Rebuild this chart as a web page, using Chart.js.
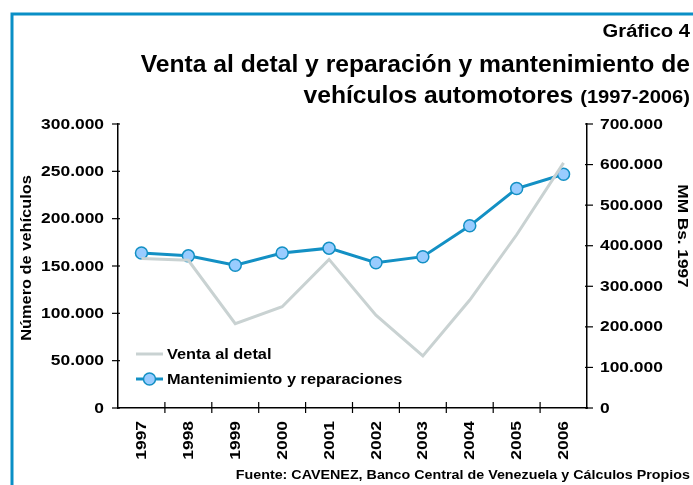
<!DOCTYPE html>
<html>
<head>
<meta charset="utf-8">
<script src="https://cdn.jsdelivr.net/npm/chart.js@4.4.0/dist/chart.umd.min.js"></script>
<style>
  html, body { margin: 0; padding: 0; background: #fff; }
  #wrap { width: 693px; height: 485px; position: relative; }
</style>
</head>
<body>
<div id="wrap"><canvas id="grafico"></canvas></div>
<script>
// Datos
var anios = ['1997', '1998', '1999', '2000', '2001', '2002', '2003', '2004', '2005', '2006'];
var ventaDetal = [158000, 156000, 89000, 107000, 157000, 98000, 55000, 114000, 183000, 259000];
var mantenimiento = [382000, 375000, 352000, 382000, 394000, 358000, 373000, 449000, 541000, 576000];
var ticksIzq = [0, 50000, 100000, 150000, 200000, 250000, 300000];
var ticksDer = [0, 100000, 200000, 300000, 400000, 500000, 600000, 700000];

var azul = '#1390c4';
var gris = '#c9d2d2';
var fuente = '"Liberation Sans", Arial, sans-serif';

function formato(v) {
    return v.toLocaleString('de-DE');
}

// texto con letra ensanchada (la del original es mas ancha que Arial)
function texto(ctx, s, x, y, tam, sx, align, giro) {
    ctx.save();
    ctx.translate(x, y);
    if (giro) ctx.rotate(giro);
    ctx.scale(sx, 1);
    ctx.font = 'bold ' + tam + 'px ' + fuente;
    ctx.textAlign = align;
    ctx.fillText(s, 0, 0);
    ctx.restore();
}

// Textos, marco, marcas de ejes y leyenda dibujados a mano
var decoracion = {
    id: 'decoracion',
    afterDraw: function (chart) {
        var ctx = chart.ctx;
        var sX = chart.scales.x, sY = chart.scales.y, sY1 = chart.scales.y1;
        var area = chart.chartArea;
        ctx.save();
        // marco azul
        ctx.strokeStyle = '#0a8fc6';
        ctx.lineWidth = 3;
        ctx.beginPath();
        ctx.moveTo(12, 490);
        ctx.lineTo(12, 14);
        ctx.lineTo(700, 14);
        ctx.stroke();

        ctx.fillStyle = '#000';
        ctx.textBaseline = 'alphabetic';
        texto(ctx, 'Gráfico 4', 690, 37, 18, 1.12, 'right');
        texto(ctx, 'Venta al detal y reparación y mantenimiento de', 690, 72, 24, 1.027, 'right');
        ctx.font = 'bold 18px ' + fuente;
        var w = ctx.measureText('(1997-2006)').width * 1.12;
        texto(ctx, '(1997-2006)', 690, 103, 18, 1.12, 'right');
        texto(ctx, 'vehículos automotores ', 690 - w, 103, 24, 1.027, 'right');
        texto(ctx, 'Fuente: CAVENEZ, Banco Central de Venezuela y Cálculos Propios', 690, 479, 13, 1.1, 'right');

        // titulos de ejes
        ctx.textBaseline = 'middle';
        texto(ctx, 'Número de vehículos', 27, 258, 14, 1.17, 'center', -Math.PI / 2);
        texto(ctx, 'MM Bs. 1997', 682, 236, 14, 1.23, 'center', Math.PI / 2);

        // etiquetas y marcas de los ejes
        ctx.strokeStyle = '#000';
        ctx.lineWidth = 1.2;
        ticksIzq.forEach(function (v) {
            var y = sY.getPixelForValue(v);
            texto(ctx, formato(v), 104, y + 0.5, 15, 1.16, 'right');
            ctx.beginPath();
            ctx.moveTo(area.left - 6, y);
            ctx.lineTo(area.left + 2, y);
            ctx.stroke();
        });
        ticksDer.forEach(function (v) {
            var y = sY1.getPixelForValue(v);
            texto(ctx, formato(v), 600, y + 0.5, 15, 1.16, 'left');
            ctx.beginPath();
            ctx.moveTo(area.right - 2, y);
            ctx.lineTo(area.right + 6, y);
            ctx.stroke();
        });
        var paso = (area.right - area.left) / anios.length;
        anios.forEach(function (a, i) {
            var x = sX.getPixelForValue(i);
            texto(ctx, a, x + 0.5, 421, 15, 1.16, 'right', -Math.PI / 2);
            if (i > 0) {
                ctx.beginPath();
                ctx.moveTo(x - paso / 2, area.bottom - 6);
                ctx.lineTo(x - paso / 2, area.bottom + 5);
                ctx.stroke();
            }
        });

        // leyenda
        ctx.lineWidth = 3;
        ctx.strokeStyle = gris;
        ctx.beginPath();
        ctx.moveTo(136, 354);
        ctx.lineTo(163, 354);
        ctx.stroke();
        texto(ctx, 'Venta al detal', 167, 355, 15, 1.09, 'left');
        ctx.strokeStyle = azul;
        ctx.beginPath();
        ctx.moveTo(136, 379);
        ctx.lineTo(163, 379);
        ctx.stroke();
        ctx.beginPath();
        ctx.arc(149.5, 379, 6, 0, Math.PI * 2);
        ctx.fillStyle = '#99ccff';
        ctx.fill();
        ctx.lineWidth = 1.5;
        ctx.stroke();
        ctx.fillStyle = '#000';
        texto(ctx, 'Mantenimiento y reparaciones', 167, 380, 15, 1.09, 'left');
        ctx.restore();
    }
};

var ctx = document.getElementById('grafico').getContext('2d');
var grafico = new Chart(ctx, {
    type: 'line',
    data: {
        labels: anios,
        datasets: [{
            label: 'Venta al detal',
            data: ventaDetal,
            yAxisID: 'y',
            borderColor: gris,
            borderWidth: 3,
            pointRadius: 0,
            tension: 0
        }, {
            label: 'Mantenimiento y reparaciones',
            data: mantenimiento,
            yAxisID: 'y1',
            borderColor: azul,
            borderWidth: 3,
            pointRadius: 6,
            pointBackgroundColor: '#99ccff',
            pointBorderColor: azul,
            pointBorderWidth: 1.5,
            tension: 0
        }]
    },
    options: {
        responsive: true,
        maintainAspectRatio: false,
        animation: false,
        layout: { padding: { top: 124, left: 0, right: 0, bottom: 0 } },
        plugins: {
            legend: { display: false },
            tooltip: { enabled: false }
        },
        scales: {
            x: {
                offset: true,
                afterFit: function (s) { s.height = 77; },
                grid: { display: false },
                border: { color: '#000', width: 1.5 },
                ticks: { display: false }
            },
            y: {
                position: 'left',
                min: 0,
                max: 300000,
                afterFit: function (s) { s.width = 118; },
                grid: { display: false },
                border: { color: '#000', width: 1.5 },
                ticks: { display: false }
            },
            y1: {
                position: 'right',
                min: 0,
                max: 700000,
                afterFit: function (s) { s.width = 106; },
                grid: { display: false },
                border: { color: '#000', width: 1.5 },
                ticks: { display: false }
            }
        }
    },
    plugins: [decoracion]
});
</script>
</body>
</html>
